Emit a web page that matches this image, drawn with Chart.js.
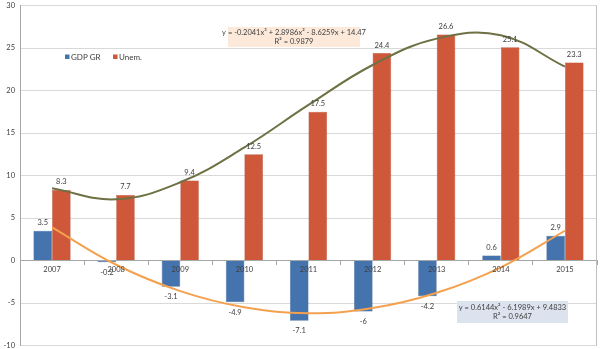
<!DOCTYPE html>
<html>
<head>
<meta charset="utf-8">
<script src="https://cdn.jsdelivr.net/npm/chart.js@4.4.0/dist/chart.umd.min.js"></script>
<style>
  html, body { margin: 0; padding: 0; background: #fff; }
  #wrap { width: 600px; height: 349px; position: relative; }
</style>
</head>
<body>
<div id="wrap"><canvas id="chart"></canvas></div>
<script>
const years = ["2007", "2008", "2009", "2010", "2011", "2012", "2013", "2014", "2015"];
const gdpGrowth = [3.5, -0.2, -3.1, -4.9, -7.1, -6, -4.2, 0.6, 2.9];
const unemployment = [8.3, 7.7, 9.4, 12.5, 17.5, 24.4, 26.6, 25.1, 23.3];
// trend curves at each year
const unemTrend = [8.5, 7.2, 9.2, 13.3, 18.3, 23.0, 26.1, 26.5, 22.8];
const gdpTrend = [3.9, -0.5, -3.6, -5.5, -6.2, -5.6, -3.8, -0.8, 3.5];
const unemTrendText = ["y = -0.2041x\u00b3 + 2.8986x\u00b2 - 8.6259x + 14.47", "R\u00b2 = 0.9879"];
const gdpTrendText = ["y = 0.6144x\u00b2 - 6.1989x + 9.4833", "R\u00b2 = 0.9647"];
const yTicks = [-10, -5, 0, 5, 10, 15, 20, 25, 30];

const blue = "#4573ad";
const red = "#cf583b";
const textColor = "#404040";
const fontFamily = "Lato, 'Open Sans', sans-serif";

const extras = {
  id: "extras",
  afterDatasetsDraw(chart) {
    const ctx = chart.ctx;
    const area = chart.chartArea;
    const xs = chart.scales.x;
    const ys = chart.scales.y;
    ctx.save();
    // right border of the plot
    ctx.strokeStyle = "#bfbfbf";
    ctx.lineWidth = 1;
    ctx.beginPath();
    ctx.moveTo(area.right - 0.5, area.top);
    ctx.lineTo(area.right - 0.5, area.bottom);
    ctx.stroke();

    // category labels under the zero line, on top of the bars
    ctx.font = "7.5px " + fontFamily;
    ctx.fillStyle = textColor;
    ctx.textAlign = "center";
    ctx.textBaseline = "middle";
    const zeroY = ys.getPixelForValue(0);
    years.forEach((label, i) => {
      ctx.fillText(label, xs.getPixelForTick(i), zeroY + 9);
    });

    // value labels
    [0, 1].forEach(di => {
      const meta = chart.getDatasetMeta(di);
      const vals = chart.data.datasets[di].data;
      meta.data.forEach((bar, i) => {
        const v = vals[i];
        const y = v >= 0 ? bar.y - 8 : bar.y + 10;
        ctx.fillText(String(v), bar.x, y);
      });
    });

    // legend
    ctx.font = "8px " + fontFamily;
    ctx.textAlign = "left";
    const legendItems = [[chart.data.datasets[0].label, blue, 65], [chart.data.datasets[1].label, red, 113]];
    legendItems.forEach(([label, color, x]) => {
      ctx.fillStyle = color;
      ctx.fillRect(x, 54.5, 4.5, 4.5);
      ctx.fillStyle = textColor;
      ctx.fillText(label, x + 6, 57);
    });

    // trendline equation boxes
    ctx.font = "7.5px " + fontFamily;
    const box = (lines, x, y, w, h, bg) => {
      ctx.fillStyle = bg;
      ctx.fillRect(x, y, w, h);
      ctx.fillStyle = textColor;
      ctx.textAlign = "center";
      ctx.fillText(lines[0], x + w / 2, y + h * 0.3);
      ctx.fillText(lines[1], x + w / 2, y + h * 0.73);
    };
    box(unemTrendText, 228, 27, 132, 20, "#fde9d9");
    box(gdpTrendText, 457, 301, 111, 22, "#dce3ee");
    ctx.restore();
  }
};

new Chart(document.getElementById("chart"), {
  type: "bar",
  data: {
    labels: years,
    datasets: [
      {
        label: "GDP GR",
        data: gdpGrowth,
        backgroundColor: blue,
        borderColor: "#365d8f",
        borderWidth: 0.5,
        categoryPercentage: 0.58,
        barPercentage: 1.0,
        order: 2
      },
      {
        label: "Unem.",
        data: unemployment,
        backgroundColor: red,
        borderColor: "#a9442d",
        borderWidth: 0.5,
        categoryPercentage: 0.58,
        barPercentage: 1.0,
        order: 2
      },
      {
        type: "line",
        label: "Unem. trend",
        data: unemTrend,
        borderColor: "#6e7143",
        borderWidth: 2,
        pointRadius: 0,
        tension: 0.4,
        fill: false,
        order: 1
      },
      {
        type: "line",
        label: "GDP trend",
        data: gdpTrend,
        borderColor: "#f4a14f",
        borderWidth: 2,
        pointRadius: 0,
        tension: 0.4,
        fill: false,
        order: 1
      }
    ]
  },
  options: {
    responsive: true,
    maintainAspectRatio: false,
    animation: false,
    layout: { padding: { top: 5.5, right: 3, bottom: 3.5, left: 0 } },
    plugins: {
      legend: { display: false },
      tooltip: { enabled: false }
    },
    scales: {
      x: {
        position: { y: 0 },
        offset: true,
        afterFit: s => { s.height = 0; },
        grid: {
          offset: true,
          drawOnChartArea: false,
          drawTicks: true,
          tickLength: 4,
          color: "#a6a6a6"
        },
        border: { color: "#a6a6a6" },
        ticks: { display: false }
      },
      y: {
        min: -10,
        max: 30,
        afterBuildTicks: s => { s.ticks = yTicks.map(v => ({ value: v })); },
        afterFit: s => { s.width = 20; s.paddingTop = 0; s.paddingBottom = 0; },
        grid: { color: "#d9d9d9", drawTicks: false },
        border: { color: "#a6a6a6" },
        ticks: {
          color: textColor,
          font: { family: fontFamily, size: 7.5 },
          padding: 5
        }
      }
    }
  },
  plugins: [extras]
});
</script>
</body>
</html>
